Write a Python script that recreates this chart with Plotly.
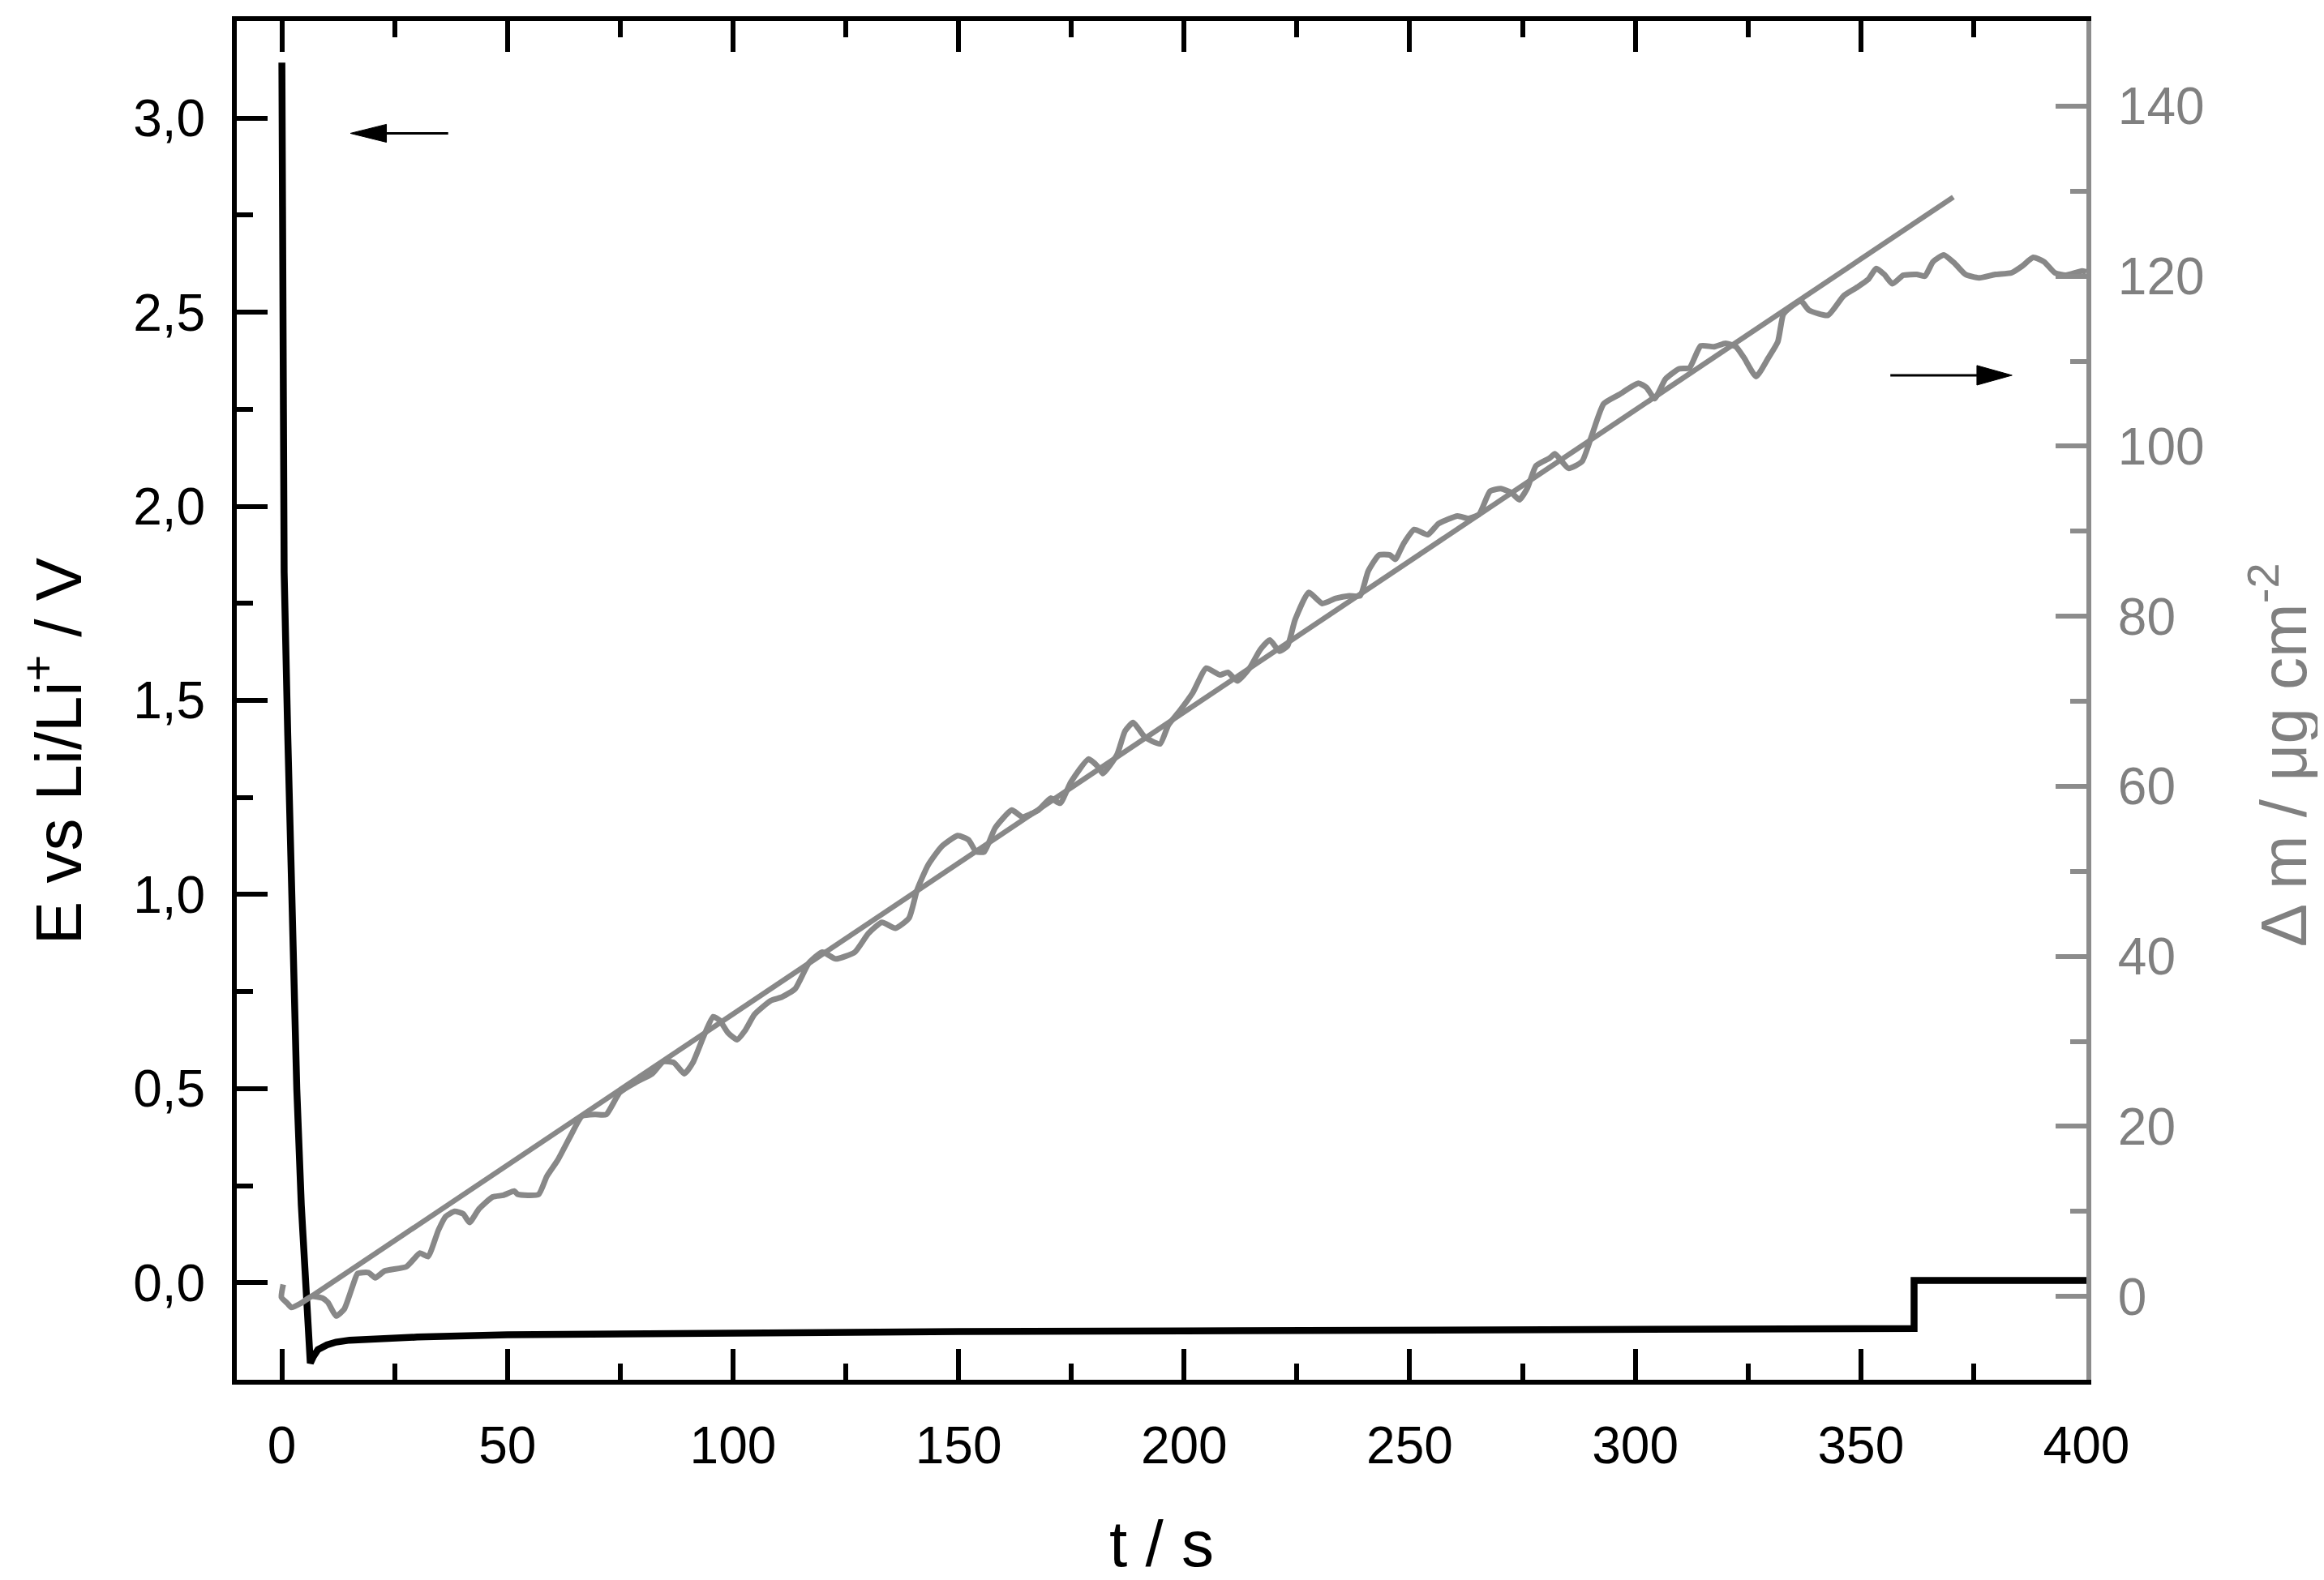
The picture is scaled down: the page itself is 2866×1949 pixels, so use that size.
import plotly.graph_objects as go

# potential E vs Li/Li+ (black, left axis)
t_E = [0, 0.1, 0.5, 1.3, 2.1, 3.3, 4.3, 5.1, 5.7, 6.3, 7, 8, 10, 12, 15, 20, 30, 50,
       75, 100, 150, 200, 250, 300, 361.8, 361.8, 400]
E_V = [3.143, 2.63, 1.83, 1.41, 1.0, 0.5, 0.2, 0.0, -0.13, -0.207, -0.19, -0.172, -0.16,
       -0.153, -0.148, -0.144, -0.14, -0.134, -0.131, -0.129, -0.126, -0.124, -0.122,
       -0.12, -0.118, 0.006, 0.006]

# mass change (grey, right axis)
t_mass = [0.3, -0.1, 1.2, 2.1, 4.2, 6.6, 9.0, 10.2, 12.0, 13.8, 15.6, 16.8, 19.2, 20.7,
          22.8, 27.6, 30.6, 32.4, 34.7, 36.3, 38.3, 40.2, 41.6, 43.7, 46.7, 49.1, 51.5,
          52.3, 56.9, 58.7, 61.1, 64.1, 66.5, 69.5, 71.9, 74.9, 78.5, 82.1, 84.5, 86.9,
          89.2, 91.1, 93.5, 95.6, 97.0, 98.9, 100.9, 102.7, 104.8, 108.4, 110.8, 113.8,
          116.8, 119.8, 122.8, 127.0, 130.0, 133.0, 136.0, 139.0, 140.8, 143.2, 146.2,
          149.8, 152.2, 153.9, 155.7, 158.1, 161.8, 164.1, 167.7, 170.4, 172.5, 174.9,
          178.8, 180.9, 182.0, 185.1, 186.9, 188.7, 191.1, 192.9, 194.7, 196.5, 198.9,
          201.9, 204.9, 207.9, 209.7, 211.8, 214.5, 216.9, 219.0, 221.1, 222.9, 224.6,
          227.6, 230.6, 233.6, 236.6, 239.0, 240.8, 243.2, 245.6, 246.8, 248.6, 251.0,
          254.0, 256.4, 260.6, 263.0, 265.4, 267.8, 270.2, 272.6, 274.3, 276.1, 278.0,
          281.0, 282.2, 285.2, 288.2, 290.5, 293.0, 296.5, 300.7, 302.5, 304.3, 306.7,
          309.7, 312.0, 314.5, 317.5, 320.0, 322.3, 324.1, 326.8, 329.5, 331.6, 332.8,
          334.3, 336.7, 338.5, 342.7, 346.2, 349.2, 351.6, 353.4, 355.2, 357.0, 359.4,
          362.4, 364.2, 366.0, 368.4, 370.8, 373.2, 376.2, 379.8, 383.4, 385.8, 388.2,
          390.6, 393.0, 395.4, 399.0, 400.0]
dm_mass = [1.4, -0.1, -0.8, -1.3, -0.8, 0.0, -0.2, -0.7, -2.3, -1.5, 1.1, 2.7, 2.8, 2.2,
           3.0, 3.5, 5.1, 4.7, 7.8, 9.4, 10.0, 9.7, 8.7, 10.3, 11.7, 11.9, 12.4,
           12.0, 12.0, 14.1, 16.0, 19.0, 21.2, 21.4, 21.4, 24.0, 25.2, 26.2, 27.6, 27.5,
           26.2, 27.5, 30.6, 32.9, 32.5, 31.0, 30.2, 31.3, 33.2, 34.8, 35.2, 36.2,
           39.2, 40.5, 39.7, 40.5, 42.7, 44.0, 43.3, 44.5, 47.8, 50.7, 52.9,
           54.2, 53.7, 52.3, 52.3, 55.1, 57.2, 56.4, 57.2, 58.6, 58.0, 60.5,
           63.2, 62.3, 61.5, 63.7, 66.5, 67.5, 65.9, 65.3, 65.0, 67.2, 68.8,
           71.0, 73.9, 73.1, 73.4, 72.4, 73.9, 76.1, 77.2, 75.9, 76.5, 79.6,
           82.8, 81.5, 82.1, 82.4, 82.4, 85.3, 87.2, 87.2, 86.7, 88.5, 90.2,
           89.6, 90.9, 91.8, 91.5, 92.0, 94.7, 95.0, 94.5, 93.7, 95.1, 97.7,
           98.6, 99.1, 97.4, 98.2, 101.5, 105.0, 106.1, 107.4, 106.9, 105.6, 107.9,
           109.1, 109.2, 111.8, 111.7, 112.1, 111.7, 110.4, 108.2, 110.4, 112.3, 115.5,
           116.3, 117.1, 116.0, 115.4, 117.7, 118.7, 119.6, 120.9, 120.2, 119.1, 120.1,
           120.2, 120.0, 121.7, 122.5, 121.5, 120.2, 119.8, 120.2, 120.4, 121.2, 122.2,
           121.7, 120.4, 120.1, 120.6, 120.5]

# linear fit of the mass change
t_fit = [6.5, 370.5]
dm_fit = [0.0, 129.3]

GREY = "#888888"
AXIS_GREY = "#8c8c8c"
LABEL_GREY = "#808080"
FONT = "Liberation Sans, Arial, sans-serif"

fig = go.Figure()
fig.add_trace(go.Scatter(x=t_E, y=E_V, mode="lines", line=dict(color="black", width=8.5)))
fig.add_trace(go.Scatter(x=t_fit, y=dm_fit, mode="lines", yaxis="y2",
                         line=dict(color=GREY, width=6.5)))
fig.add_trace(go.Scatter(x=t_mass, y=dm_mass, mode="lines", yaxis="y2",
                         line=dict(color=GREY, width=7, shape="spline", smoothing=0.5)))

tick_common = dict(ticks="inside", ticklen=38, tickwidth=6, showline=True, linewidth=6,
                   showgrid=False, zeroline=False)

fig.update_layout(
    width=2866,
    height=1949,
    margin=dict(l=284, r=301, t=18, b=255),
    paper_bgcolor="white",
    plot_bgcolor="white",
    showlegend=False,
    separators=",.",
    font=dict(family=FONT, size=64, color="black"),
    xaxis=dict(
        range=[-10, 400], tick0=0, dtick=50, mirror="ticks",
        linecolor="black", tickcolor="black",
        minor=dict(dtick=25, ticks="inside", ticklen=20, tickwidth=6, tickcolor="black"),
        tickfont=dict(size=64), ticklabelstandoff=20,
        title=dict(text="t / s", font=dict(size=80), standoff=60),
        **tick_common,
    ),
    yaxis=dict(
        range=[-0.25, 3.25], tick0=0, dtick=0.5, tickformat=".1f",
        linecolor="black", tickcolor="black",
        minor=dict(dtick=0.25, ticks="inside", ticklen=20, tickwidth=6, tickcolor="black"),
        tickfont=dict(size=64), ticklabelstandoff=20,
        **tick_common,
    ),
    yaxis2=dict(
        overlaying="y", side="right", anchor="x",
        range=[-9.8, 150], tick0=0, dtick=20,
        linecolor=AXIS_GREY, tickcolor=AXIS_GREY,
        minor=dict(dtick=10, ticks="inside", ticklen=20, tickwidth=6, tickcolor=AXIS_GREY),
        tickfont=dict(size=64, color=LABEL_GREY), ticklabelstandoff=20,
        **tick_common,
    ),
)

# y-axis titles sit a little below the vertical centre in the original
fig.add_annotation(text="E vs Li/Li<sup>+</sup> / V", xref="paper", yref="paper",
                   x=-0.099, y=0.463, xanchor="center", yanchor="middle", textangle=-90,
                   showarrow=False, font=dict(size=80, color="black"))
fig.add_annotation(text="Δ m / μg cm<sup>-2</sup>", xref="paper", yref="paper",
                   x=1.104, y=0.46, xanchor="center", yanchor="middle", textangle=-90,
                   showarrow=False, font=dict(size=80, color=LABEL_GREY))

# arrows pointing to the matching axis
arrows = [
    dict(tail=0.1143, base=0.0809, tip=0.0614, y=0.9174, hw=0.0066),
    dict(tail=0.8940, base=0.9408, tip=0.9598, y=0.7393, hw=0.0072),
]
for a in arrows:
    fig.add_shape(type="line", xref="paper", yref="paper",
                  x0=a["tail"], x1=a["base"], y0=a["y"], y1=a["y"],
                  line=dict(color="black", width=3))
    fig.add_shape(type="path", xref="paper", yref="paper",
                  path=f"M {a['base']} {a['y'] - a['hw']} L {a['tip']} {a['y']} "
                       f"L {a['base']} {a['y'] + a['hw']} Z",
                  fillcolor="black", line=dict(color="black", width=1))

fig.write_html("out.html")
